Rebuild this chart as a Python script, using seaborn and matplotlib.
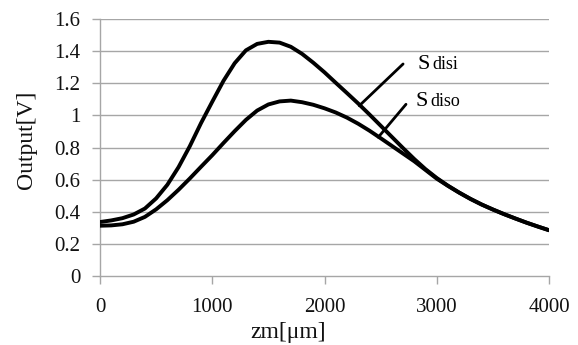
import numpy as np
import pandas as pd
import matplotlib
matplotlib.use("Agg")
import matplotlib.pyplot as plt
import seaborn as sns

# ---- data ----
zm = [0, 100, 200, 300, 400, 500, 600, 700, 800, 900, 1000, 1100, 1200, 1300, 1400,
      1500, 1600, 1700, 1800, 1900, 2000, 2100, 2200, 2300, 2400, 2500, 2600, 2700,
      2800, 2900, 3000, 3100, 3200, 3300, 3400, 3500, 3600, 3700, 3800, 3900, 4000]
sdisi = [0.336, 0.346, 0.360, 0.383, 0.420, 0.483, 0.568, 0.678, 0.808, 0.952, 1.085,
         1.215, 1.325, 1.405, 1.445, 1.458, 1.453, 1.427, 1.383, 1.328, 1.268, 1.203,
         1.139, 1.074, 1.006, 0.936, 0.866, 0.796, 0.728, 0.665, 0.610, 0.562, 0.519,
         0.480, 0.445, 0.414, 0.385, 0.358, 0.332, 0.308, 0.285]
sdiso = [0.313, 0.315, 0.322, 0.338, 0.368, 0.415, 0.472, 0.537, 0.607, 0.680, 0.752,
         0.828, 0.902, 0.972, 1.030, 1.068, 1.087, 1.092, 1.082, 1.066, 1.044, 1.018,
         0.986, 0.948, 0.905, 0.858, 0.810, 0.762, 0.714, 0.660, 0.606, 0.561, 0.519,
         0.480, 0.445, 0.414, 0.385, 0.358, 0.332, 0.308, 0.285]

series_names = ["Sdisi", "Sdiso"]
label_main = ["S", "S"]
label_sub = ["disi", "diso"]
# annotation leader lines: point on curve -> end near label
leader_tip = [(2310, 1.060), (2479, 0.864)]
leader_tail = [(2700, 1.320), (2726, 1.069)]
label_pos = [(2827, 1.287), (2815, 1.058)]

xticks = [0, 1000, 2000, 3000, 4000]
xtick_labels = ["0", "1000", "2000", "3000", "4000"]
yticks = [0, 0.2, 0.4, 0.6, 0.8, 1.0, 1.2, 1.4, 1.6]
ytick_labels = ["0", "0.2", "0.4", "0.6", "0.8", "1", "1.2", "1.4", "1.6"]

df = pd.DataFrame({
    "zm": zm * 2,
    "out": sdisi + sdiso,
    "series": [series_names[0]] * len(zm) + [series_names[1]] * len(zm),
})

sns.set_theme(style="white")
plt.rcParams["font.family"] = ["Liberation Serif", "DejaVu Serif"]

fig = plt.figure(figsize=(5.78, 3.45), dpi=100)
ax = fig.add_axes([100 / 578, 1 - 276 / 345, 449 / 578, 257 / 345])

grid_c = "#a6a6a6"
for y in yticks[1:]:
    ax.axhline(y, color=grid_c, lw=1.0, zorder=0)

sns.lineplot(data=df, x="zm", y="out", hue="series", palette=["black", "black"],
             legend=False, linewidth=2.8, ax=ax, zorder=3,
             solid_joinstyle="round", solid_capstyle="round")

for tip, tail, pos, m, s in zip(leader_tip, leader_tail, label_pos, label_main, label_sub):
    ax.annotate("", xy=tip, xytext=tail,
                arrowprops=dict(arrowstyle="-", lw=2.0, color="black",
                                shrinkA=0, shrinkB=0), zorder=4)
    ax.text(pos[0], pos[1], m, fontsize=16, ha="left", va="baseline", color="black")
    ax.annotate(s, xy=pos, xytext=(10.5, 0), textcoords="offset points",
                fontsize=13, ha="left", va="baseline", color="black")

ax.set_xlim(0, 4000)
ax.set_ylim(0, 1.6)
ax.set_xticks(xticks)
ax.set_xticklabels(xtick_labels)
ax.set_yticks(yticks)
ax.set_yticklabels(ytick_labels)

for side in ["top", "right"]:
    ax.spines[side].set_visible(False)
for side in ["left", "bottom"]:
    ax.spines[side].set_color(grid_c)
    ax.spines[side].set_linewidth(1.0)

ax.tick_params(axis="y", direction="out", length=6, width=1, color=grid_c,
               labelsize=15, pad=8, labelcolor="#111111", left=True)
ax.tick_params(axis="x", direction="out", length=6, width=1, color=grid_c,
               labelsize=15, pad=10, labelcolor="#111111", bottom=True)

ax.set_xlabel("zm[μm]", fontsize=17, color="#111111")
ax.set_ylabel("Output[V]", fontsize=17, color="#111111")
ax.xaxis.set_label_coords(0.419, -0.18)
ax.yaxis.set_label_coords(-0.14, 0.53)

fig.savefig("out.png", dpi=100)
